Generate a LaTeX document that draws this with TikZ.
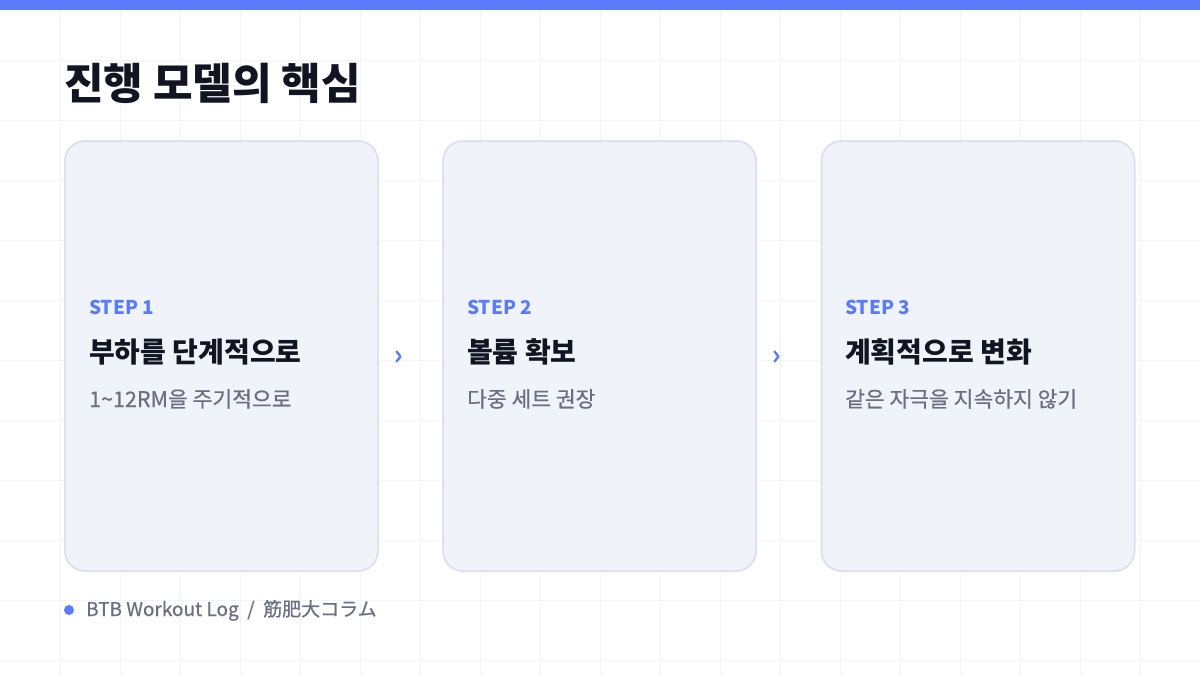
\documentclass[tikz,border=0pt]{standalone}
\usepackage{fontspec}
\newfontfamily\kr{Noto Sans CJK KR}
\newfontfamily\krm[FakeBold=0.6]{Noto Sans CJK KR}
\definecolor{barblue}{RGB}{91,124,250}
\definecolor{gridc}{RGB}{243,244,247}
\definecolor{cardfill}{RGB}{241,243,251}
\definecolor{cardline}{RGB}{222,226,238}
\definecolor{ink}{RGB}{17,20,33}
\definecolor{muted}{RGB}{107,112,128}
\tikzset{
  card/.style={draw=cardline, line width=2pt, fill=cardfill, rounded corners=20pt,
    minimum width=313pt, minimum height=430pt, inner sep=0pt},
  steplbl/.style={anchor=base west, inner sep=0pt, text=barblue, font=\kr\bfseries\fontsize{19}{22}\selectfont},
  steptitle/.style={anchor=base west, inner sep=0pt, text=ink, font=\kr\bfseries\fontsize{28}{32}\selectfont},
  stepsub/.style={anchor=base west, inner sep=0pt, text=muted, font=\krm\fontsize{21.5}{24}\selectfont},
  chevline/.style={draw=barblue, line width=2.3pt, line cap=round, line join=round},
}
\begin{document}
\begin{tikzpicture}[x=1pt,y=-1pt]
\useasboundingbox (0,0) rectangle (1200,675);
\fill[white] (0,0) rectangle (1200,675);
% grid
\foreach \i in {60,120,...,1140} \draw[gridc, line width=1pt] (\i,0) -- (\i,675);
\foreach \j in {60,120,...,660} \draw[gridc, line width=1pt] (0,\j) -- (1200,\j);
% top bar
\fill[barblue] (0,0) rectangle (1200,10);
% title
\node[anchor=base west, inner sep=0pt, text=ink, font=\kr\bfseries\fontsize{43}{50}\selectfont] (title) at (64,99) {진행 모델의 핵심};
% cards
\node[card] (c1) at (221.5,356) {};
\node[card] (c2) at (599.5,356) {};
\node[card] (c3) at (978,356) {};
% card 1
\node[steplbl] (s1) at (89,314) {STEP 1};
\node[steptitle] (t1) at (89,362) {부하를 단계적으로};
\node[stepsub] (u1) at (89,407) {1\textasciitilde 12RM을 주기적으로};
% card 2
\node[steplbl] (s2) at (467,314) {STEP 2};
\node[steptitle] (t2) at (467,362) {볼륨 확보};
\node[stepsub] (u2) at (467,407) {다중 세트 권장};
% card 3
\node[steplbl] (s3) at (845,314) {STEP 3};
\node[steptitle] (t3) at (845,362) {계획적으로 변화};
\node[stepsub] (u3) at (845,407) {같은 자극을 지속하지 않기};
% chevrons
\coordinate (a1) at (398.5,356.5);
\coordinate (a2) at (776.5,356.5);
\foreach \a in {a1,a2}
  \draw[chevline] ([shift={(-2,-5)}]\a) -- ([shift={(2,0)}]\a) -- ([shift={(-2,5)}]\a);
% footer
\fill[barblue] (69,610) circle (5pt);
\node[anchor=base west, inner sep=0pt, text=muted, font=\krm\fontsize{19}{22}\selectfont] (foot) at (86,616) {BTB Workout Log \ / \ 筋肥大コラム};
\end{tikzpicture}
\end{document}
